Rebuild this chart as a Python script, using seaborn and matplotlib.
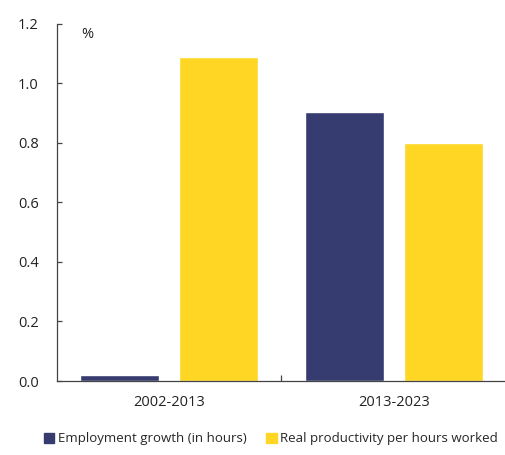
import pandas as pd
import matplotlib.pyplot as plt
import seaborn as sns
from matplotlib.patches import Patch

# Data
periods = ["2002-2013", "2013-2023"]
series_names = ["Employment growth (in hours)", "Real productivity per hours worked"]
employment = [0.02, 0.905]
productivity = [1.09, 0.80]
y_ticks = [0.0, 0.2, 0.4, 0.6, 0.8, 1.0, 1.2]

df = pd.DataFrame({
    "period": periods * 2,
    "series": [series_names[0]] * 2 + [series_names[1]] * 2,
    "value": employment + productivity,
})

sns.set_theme(style="white", rc={
    "ytick.left": True, "ytick.direction": "in",
    "xtick.bottom": True, "xtick.direction": "in",
})
plt.rcParams["font.family"] = ["Open Sans", "DejaVu Sans"]

fig = plt.figure(figsize=(5.06, 4.55), dpi=100)
ax = fig.add_axes([0.1126, 0.1626, 0.8874, 0.7850])

palette = {series_names[0]: "#363b70", series_names[1]: "#ffd624"}
sns.barplot(data=df, x="period", y="value", hue="series", palette=palette,
            width=0.88, gap=0.2, ax=ax, saturation=1, legend=False)

ax.set_ylim(0, 1.2)
ax.set_xlim(-0.5, 1.5)
ax.set_yticks(y_ticks)
ax.set_yticklabels([f"{t:.1f}" for t in y_ticks], fontsize=10.5, color="#222222")
ax.set_xlabel("")
ax.set_ylabel("")
ax.tick_params(axis="y", which="major", direction="in", length=3.5, width=0.9,
               color="#444444", left=True, pad=13)
ax.tick_params(axis="x", which="major", length=0, labelsize=10.5, pad=10,
               labelcolor="#222222")
ax.set_xticks([0.5], minor=True)
ax.tick_params(axis="x", which="minor", direction="in", length=4, width=0.9,
               color="#444444", bottom=True)

for side in ["top", "right"]:
    ax.spines[side].set_visible(False)
for side in ["left", "bottom"]:
    ax.spines[side].set_color("#444444")
    ax.spines[side].set_linewidth(0.9)

ax.text(-0.39, 1.19, "%", fontsize=10.5, va="top", ha="left", color="#222222")

# Legend
handles = [Patch(color=palette[s], label=s) for s in series_names]
fig.legend(handles=handles, loc="lower center", bbox_to_anchor=(0.535, -0.005), ncol=2,
           frameon=False, fontsize=9.5, handlelength=0.8, handleheight=0.8,
           handletextpad=0.25, columnspacing=1.5)

fig.savefig("out.png", dpi=100)
